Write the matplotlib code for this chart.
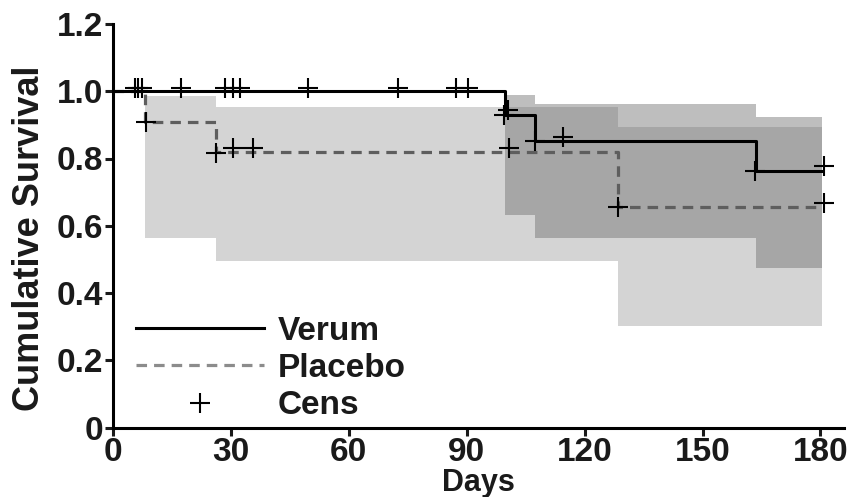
import numpy as np
import matplotlib
matplotlib.use("Agg")
import matplotlib.pyplot as plt
from matplotlib.lines import Line2D
from matplotlib.ticker import FuncFormatter

plt.rcParams['font.family'] = ['Liberation Sans', 'DejaVu Sans']
plt.rcParams['font.weight'] = 'bold'

# Kaplan-Meier steps (days, survival)
verum_t = [0, 99.7, 107.5, 163.6, 180.5]
verum_s = [1.0, 0.930, 0.851, 0.764, 0.764]
placebo_t = [0, 8.2, 26.2, 128.6, 180.5]
placebo_s = [1.0, 0.908, 0.818, 0.657, 0.657]

# confidence bands (step post)
verum_ci_t = [99.7, 107.5, 163.6, 180.5]
verum_ci_lo = [0.632, 0.564, 0.475, 0.475]
verum_ci_hi = [0.990, 0.963, 0.924, 0.924]
placebo_ci_t = [8.2, 26.2, 128.6, 180.5]
placebo_ci_lo = [0.565, 0.496, 0.302, 0.302]
placebo_ci_hi = [0.987, 0.953, 0.895, 0.895]

# censored observations
verum_cens_t = [5.6, 6.4, 7.3, 17.3, 28.5, 30.5, 32.2, 49.5, 72.5, 87.4, 90.4,
                99.4, 100.6, 107.4, 114.5, 163.4, 180.9]
verum_cens_s = [1.009] * 11 + [0.930, 0.943, 0.851, 0.864, 0.764, 0.778]
placebo_cens_t = [8.5, 26.2, 30.5, 35.5, 100.7, 128.4, 180.8]
placebo_cens_s = [0.908, 0.817, 0.831, 0.831, 0.831, 0.657, 0.669]

x_ticks = [0, 30, 60, 90, 120, 150, 180]
y_ticks = [0, 0.2, 0.4, 0.6, 0.8, 1.0, 1.2]

c_placebo_band = '#d4d4d4'
c_verum_band = '#bebebe'
c_overlap = '#a6a6a6'


def step_at(t, ts, vals):
    idx = np.searchsorted(ts, t, side='right') - 1
    return np.asarray(vals)[idx]


fig = plt.figure(figsize=(8.6, 4.97), dpi=100)
ax = fig.add_axes([113 / 860, 1 - 427.5 / 497, 731 / 860, 403.5 / 497])

ax.fill_between(placebo_ci_t, placebo_ci_lo, placebo_ci_hi, step='post',
                color=c_placebo_band, lw=0, zorder=1)
ax.fill_between(verum_ci_t, verum_ci_lo, verum_ci_hi, step='post',
                color=c_verum_band, lw=0, zorder=1)

# overlap of the two bands
grid = np.array(sorted(set(verum_ci_t) | {t for t in placebo_ci_t if t >= verum_ci_t[0]}))
ov_lo = np.maximum(step_at(grid, verum_ci_t, verum_ci_lo), step_at(grid, placebo_ci_t, placebo_ci_lo))
ov_hi = np.minimum(step_at(grid, verum_ci_t, verum_ci_hi), step_at(grid, placebo_ci_t, placebo_ci_hi))
ax.fill_between(grid, ov_lo, ov_hi, step='post', color=c_overlap, lw=0, zorder=2)

ax.step(placebo_t, placebo_s, where='post', color='#5e5e5e', lw=2.3,
        dashes=(3.3, 2.2), zorder=3)
ax.step(verum_t, verum_s, where='post', color='black', lw=2.2, zorder=4)

ax.plot(verum_cens_t, verum_cens_s, '+', color='black', ms=14, mew=1.5, zorder=5)
ax.plot(placebo_cens_t, placebo_cens_s, '+', color='black', ms=14, mew=1.5, zorder=5)

ax.set_xlim(0, 186)
ax.set_ylim(0, 1.2)
ax.set_xticks(x_ticks)
ax.set_yticks(y_ticks)
ax.yaxis.set_major_formatter(FuncFormatter(lambda v, p: '0' if v == 0 else f'{v:.1f}'))

for side in ('top', 'right'):
    ax.spines[side].set_visible(False)
for side in ('left', 'bottom'):
    ax.spines[side].set_linewidth(2.2)
ax.tick_params(direction='out', length=6, width=2.2, labelsize=24, pad=1,
               colors='#1a1a1a')
for lab in ax.get_xticklabels() + ax.get_yticklabels():
    lab.set_fontweight('bold')

ax.set_xlabel('Days', fontsize=22, fontweight='bold', labelpad=0,
              color='#1a1a1a')
ax.set_ylabel('Cumulative Survival', fontsize=26, fontweight='bold',
              color='#1a1a1a')
ax.yaxis.set_label_coords(-0.090, 0.468)

handles = [
    Line2D([], [], color='black', lw=2.2),
    Line2D([], [], color='#8c8c8c', lw=2.3, dashes=(3.3, 2.2)),
    Line2D([], [], color='black', marker='+', ls='none', ms=14, mew=1.5),
]
leg = ax.legend(handles, ['Verum', 'Placebo', 'Cens'], loc='lower left',
                bbox_to_anchor=(0.031, 0.015), frameon=False,
                handlelength=3.85, handletextpad=0.42, labelspacing=0.19,
                borderpad=0, borderaxespad=0,
                prop={'weight': 'bold', 'size': 24})
for txt in leg.get_texts():
    txt.set_color('#1a1a1a')

fig.savefig('out.png', dpi=100)
